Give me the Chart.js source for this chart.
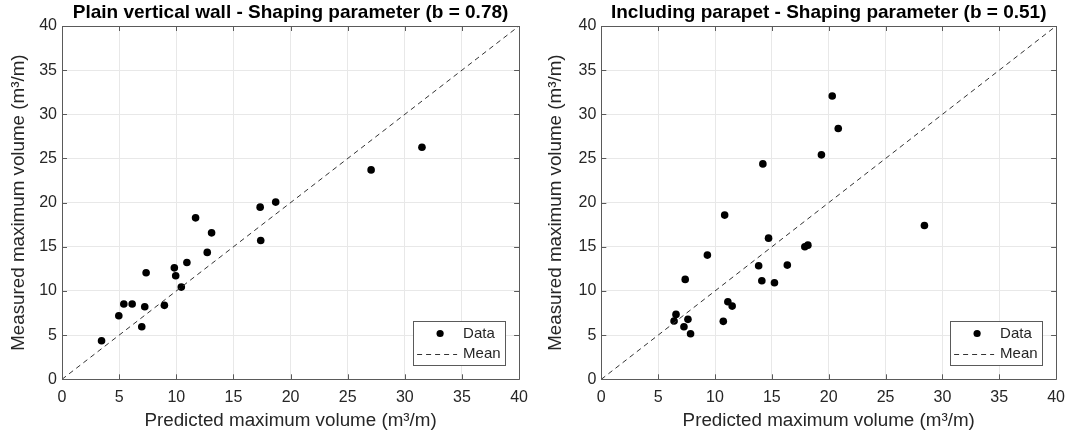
<!DOCTYPE html>
<html><head><meta charset="utf-8">
<script src="https://cdn.jsdelivr.net/npm/chart.js@4"></script>
<style>
html,body{margin:0;padding:0;background:#fff;}
#wrap{position:relative;width:1074px;height:443px;overflow:hidden;}
.pane{position:absolute;top:0;width:537px;height:443px;}
</style></head><body>
<div id="wrap">
<div class="pane" style="left:0"><canvas id="c1" width="537" height="443"></canvas></div>
<div class="pane" style="left:537px"><canvas id="c2" width="537" height="443"></canvas></div>
</div>
<script>
// ---- data ----
const axisTicks = [0, 5, 10, 15, 20, 25, 30, 35, 40];
const meanX = [0, 40];
const meanY = [0, 40];
const titles = ['Plain vertical wall - Shaping parameter (b = 0.78)', 'Including parapet - Shaping parameter (b = 0.51)'];
const xLabel = 'Predicted maximum volume (m³/m)';
const yLabel = 'Measured maximum volume (m³/m)';
const legendLabels = ['Data', 'Mean'];

const wallPredicted = [3.46, 4.97, 5.41, 6.14, 6.98, 7.24, 7.36, 8.96, 9.83, 9.95, 10.44, 10.93, 11.69, 12.71, 13.09, 17.34, 18.70, 17.39, 27.05, 31.50];
const wallMeasured  = [4.37, 7.20, 8.52, 8.52, 5.95, 8.22, 12.06, 8.37, 12.62, 11.72, 10.44, 13.23, 18.28, 14.37, 16.58, 19.49, 20.06, 15.72, 23.71, 26.28];

const parapetPredicted = [6.40, 6.57, 7.27, 7.62, 7.85, 7.38, 9.33, 10.73, 10.85, 11.13, 11.51, 13.84, 14.12, 14.21, 14.71, 15.23, 16.36, 17.90, 18.17, 19.36, 20.31, 20.84, 28.42];
const parapetMeasured  = [6.60, 7.35, 5.95, 6.79, 5.16, 11.31, 14.06, 6.56, 18.59, 8.78, 8.29, 12.85, 11.15, 24.39, 15.98, 10.93, 12.93, 15.00, 15.19, 25.41, 32.08, 28.39, 17.42];

// ---- styling ----
const FONT = "'Liberation Sans', Arial, Helvetica, sans-serif";
const TEXT = '#262626';
const AXIS = '#5a5a5a';
const GRID = '#e8e8e8';

const framePlugin = {
  id: 'frame',
  afterDatasetsDraw(chart) {
    const {ctx, chartArea: a, scales: {x, y}} = chart;
    ctx.save();
    ctx.strokeStyle = AXIS;
    ctx.lineWidth = 1;
    ctx.beginPath();
    ctx.rect(Math.round(a.left) + 0.5, Math.round(a.top) + 0.5, Math.round(a.right - a.left), Math.round(a.bottom - a.top));
    ctx.stroke();
    const L = 5;
    ctx.beginPath();
    axisTicks.forEach(v => {
      const px = Math.round(x.getPixelForValue(v)) + 0.5;
      ctx.moveTo(px, a.bottom); ctx.lineTo(px, a.bottom - L);
      ctx.moveTo(px, a.top); ctx.lineTo(px, a.top + L);
      const py = Math.round(y.getPixelForValue(v)) + 0.5;
      ctx.moveTo(a.left, py); ctx.lineTo(a.left + L, py);
      ctx.moveTo(a.right, py); ctx.lineTo(a.right - L, py);
    });
    ctx.stroke();
    ctx.restore();
  },
  afterDraw(chart) {
    const {ctx, chartArea: a} = chart;
    const w = 92, h = 44;
    const r = a.right - 14, t = a.top + 295;
    const l = r - w;
    ctx.save();
    ctx.fillStyle = '#fff';
    ctx.fillRect(l, t, w, h);
    ctx.strokeStyle = AXIS;
    ctx.lineWidth = 1;
    ctx.strokeRect(Math.round(l) + 0.5, Math.round(t) + 0.5, w, h);
    const row1 = t + 12.5, row2 = t + 32.5;
    ctx.fillStyle = '#000';
    ctx.beginPath();
    ctx.arc(l + 27, row1, 3.6, 0, Math.PI * 2);
    ctx.fill();
    ctx.strokeStyle = '#333';
    ctx.setLineDash([5, 4]);
    ctx.beginPath();
    ctx.moveTo(l + 4, Math.round(row2) + 0.5);
    ctx.lineTo(l + 44, Math.round(row2) + 0.5);
    ctx.stroke();
    ctx.setLineDash([]);
    ctx.fillStyle = TEXT;
    ctx.font = '15px ' + FONT;
    ctx.textBaseline = 'middle';
    ctx.textAlign = 'left';
    ctx.fillText(legendLabels[0], l + 50, row1);
    ctx.fillText(legendLabels[1], l + 50, row2);
    ctx.restore();
  }
};

function makeChart(id, title, px, py, yWidth, padRight) {
  return new Chart(document.getElementById(id), {
    data: {
      datasets: [
        {
          type: 'scatter',
          label: legendLabels[0],
          data: px.map((v, i) => ({x: v, y: py[i]})),
          backgroundColor: '#000',
          borderWidth: 0,
          pointRadius: 3.8,
          order: 1
        },
        {
          type: 'line',
          label: legendLabels[1],
          data: meanX.map((v, i) => ({x: v, y: meanY[i]})),
          borderColor: '#333',
          borderWidth: 1,
          borderDash: [5, 4],
          pointRadius: 0,
          fill: false,
          order: 0
        }
      ]
    },
    options: {
      responsive: false,
      animation: false,
      layout: {padding: {left: 0, right: padRight, top: 0, bottom: 0}},
      plugins: {
        legend: {display: false},
        tooltip: {enabled: false},
        title: {
          display: true,
          text: title,
          fullSize: false,
          color: '#000',
          font: {family: FONT, size: 19, weight: 'bold', lineHeight: 1.1},
          padding: {top: 2.6, bottom: 2.5}
        }
      },
      scales: {
        x: {
          type: 'linear', min: 0, max: 40,
          afterBuildTicks: s => { s.ticks = axisTicks.map(v => ({value: v})); },
          afterFit: s => { s.height = 63.7; },
          grid: {color: GRID, drawTicks: false, lineWidth: 1},
          border: {display: false},
          ticks: {color: TEXT, font: {family: FONT, size: 16}, padding: 9, maxRotation: 0},
          title: {display: true, text: xLabel, color: TEXT, font: {family: FONT, size: 18.8}, padding: {top: 0, bottom: 11}}
        },
        y: {
          type: 'linear', min: 0, max: 40,
          afterBuildTicks: s => { s.ticks = axisTicks.map(v => ({value: v})); },
          afterFit: s => { s.width = yWidth; },
          grid: {color: GRID, drawTicks: false, lineWidth: 1},
          border: {display: false},
          ticks: {color: TEXT, font: {family: FONT, size: 16}, padding: 5},
          title: {display: true, text: yLabel, color: TEXT, font: {family: FONT, size: 18.8}, padding: {top: 8, bottom: 0}}
        }
      }
    },
    plugins: [framePlugin]
  });
}

makeChart('c1', titles[0], wallPredicted, wallMeasured, 62, 16.5);
makeChart('c2', titles[1], parapetPredicted, parapetMeasured, 64.3, 13.5);
</script>
</body></html>
